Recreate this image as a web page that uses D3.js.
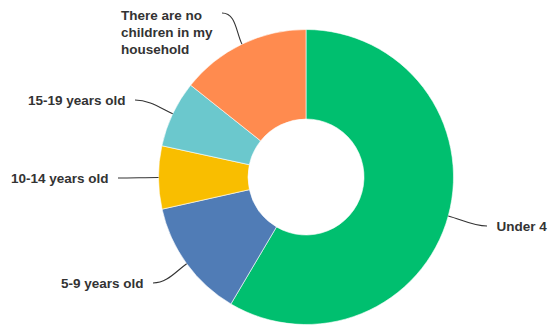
<!DOCTYPE html>
<html>
<head>
<meta charset="utf-8">
<script src="https://cdn.jsdelivr.net/npm/d3@7"></script>
<style>
  html, body { margin: 0; padding: 0; background: #fff; }
  svg { display: block; }
  .lbl { font-family: "Liberation Sans", Arial, sans-serif; font-weight: bold; font-size: 13.5px; fill: #333; }
</style>
</head>
<body>
<svg id="chart" width="548" height="327"></svg>
<script>
// Answer categories, clockwise from 12 o'clock
const categories = ["Under 4", "5-9 years old", "10-14 years old", "15-19 years old", "There are no children in my household"];
// Share of respondents (%)
const shares = [58.5, 13.0, 6.9, 7.3, 14.3];
// Label text, split into lines
const labelLines = [["Under 4"], ["5-9 years old"], ["10-14 years old"], ["15-19 years old"], ["There are no", "children in my", "household"]];
const colors = ["#00BF6F", "#507CB6", "#F9BE00", "#6BC8CD", "#FF8B4F"];

const svg = d3.select("#chart");
const cx = 306, cy = 177, outerR = 147.5, innerR = 58;

const pie = d3.pie().sort(null).value(d => d.value);
const arc = d3.arc().innerRadius(innerR).outerRadius(outerR);

const data = categories.map((c, i) => ({ name: c, value: shares[i], lines: labelLines[i], color: colors[i] }));
const arcs = pie(data);

const g = svg.append("g").attr("transform", `translate(${cx},${cy})`);

g.selectAll("path.slice")
  .data(arcs)
  .join("path")
  .attr("class", "slice")
  .attr("d", arc)
  .attr("fill", d => d.data.color)
  .attr("stroke", "#fff")
  .attr("stroke-width", 0.6);

// Where each leader line ends (relative to chart centre) and which side the text sits on
const leaderEnds = [
  { dx: 181, dy: 49, side: "right" },
  { dx: -153, dy: 106, side: "left" },
  { dx: -188, dy: 1, side: "left" },
  { dx: -171, dy: -77, side: "left" },
  { dx: -84, dy: -164, side: "left" }
];

const gap = 9.5, lineH = 16.8;

arcs.forEach((a, i) => {
  const mid = (a.startAngle + a.endAngle) / 2;
  const sx = outerR * Math.sin(mid), sy = -outerR * Math.cos(mid);
  const e = leaderEnds[i];
  const dirX = e.side === "right" ? 1 : -1;

  // Leader: leaves the arc radially, eases into a horizontal run at the label
  const p = d3.path();
  p.moveTo(sx, sy);
  const k = 14;
  p.bezierCurveTo(
    sx + Math.sin(mid) * k, sy - Math.cos(mid) * k,
    e.dx - dirX * 14, e.dy,
    e.dx, e.dy
  );
  g.append("path")
    .attr("d", p.toString())
    .attr("fill", "none")
    .attr("stroke", "#333")
    .attr("stroke-width", 1.1);

  const lines = a.data.lines;
  const t = g.append("text").attr("class", "lbl");
  if (lines.length === 1) {
    t.attr("x", e.dx + dirX * gap)
     .attr("y", e.dy + 5)
     .attr("text-anchor", e.side === "right" ? "start" : "end")
     .text(lines[0]);
  } else {
    lines.forEach((ln, j) => {
      t.append("tspan").attr("y", e.dy + 7.3 + j * lineH).text(ln);
    });
    const spans = t.selectAll("tspan");
    let maxW = 0;
    spans.each(function () { maxW = Math.max(maxW, this.getComputedTextLength()); });
    spans.attr("x", e.dx - gap - maxW);
  }
});
</script>
</body>
</html>
